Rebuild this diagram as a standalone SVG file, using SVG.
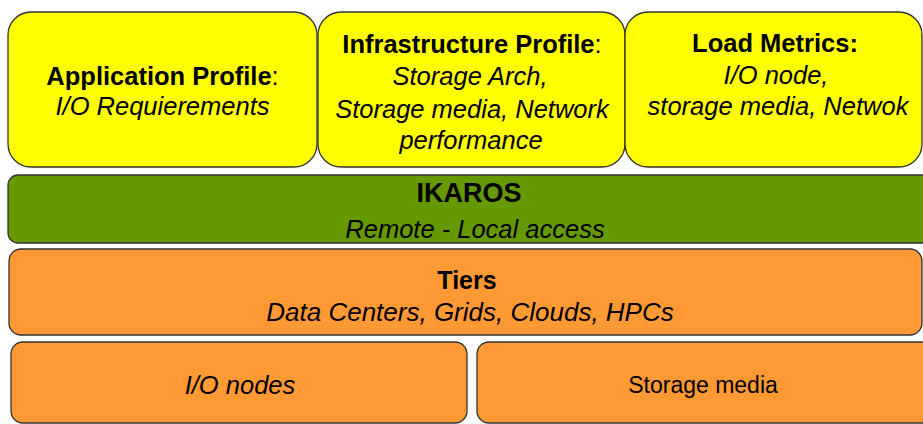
<svg xmlns="http://www.w3.org/2000/svg" width="923" height="424" viewBox="0 0 923 424">
<style>
.box{stroke:#333;stroke-width:1.3}
.y{fill:#FFFF00}
.g{fill:#669900}
.o{fill:#FF9933}
text{font-family:"Liberation Sans",Arial,sans-serif;fill:#000;text-anchor:middle}
.b{font-weight:bold}
.i{font-style:italic}
</style>
<rect width="923" height="424" fill="#fff"/>
<g id="app-profile">
<rect class="box y" x="8" y="12" width="309" height="155" rx="23"/>
<text x="162.5" y="85" font-size="25.5"><tspan class="b">Application Profile</tspan>:</text>
<text class="i" x="162.5" y="115" font-size="25.5">I/O Requierements</text>
</g>
<g id="infra-profile">
<rect class="box y" x="318" y="12" width="307" height="155" rx="23"/>
<text x="472" y="53" font-size="25.5"><tspan class="b">Infrastructure Profile</tspan>:</text>
<text class="i" x="470" y="85" font-size="25.5">Storage Arch,</text>
<text class="i" x="472" y="118" font-size="25.5">Storage media, Network</text>
<text class="i" x="471" y="149" font-size="25.5">performance</text>
</g>
<g id="load-metrics">
<rect class="box y" x="625" y="12" width="297" height="155" rx="23"/>
<text class="b" x="775" y="52" font-size="25.5">Load Metrics:</text>
<text class="i" x="776" y="84" font-size="25.5">I/O node,</text>
<text class="i" x="778" y="115" font-size="25.5">storage media, Netwok</text>
</g>
<g id="ikaros">
<rect class="box g" x="8" y="175" width="930" height="68" rx="10"/>
<text class="b" x="469" y="202" font-size="27">IKAROS</text>
<text class="i" x="475" y="238" font-size="25.5">Remote - Local access</text>
</g>
<g id="tiers">
<rect class="box o" x="9" y="249" width="913" height="86" rx="12"/>
<text class="b" x="467" y="289" font-size="25">Tiers</text>
<text class="i" x="470" y="321" font-size="26">Data Centers, Grids, Clouds, HPCs</text>
</g>
<g id="io-nodes">
<rect class="box o" x="11" y="342" width="456" height="81" rx="12"/>
<text class="i" x="240" y="394" font-size="25.5">I/O nodes</text>
</g>
<g id="storage-media">
<rect class="box o" x="477" y="342" width="460" height="81" rx="12"/>
<text x="703" y="393" font-size="23">Storage media</text>
</g>
<g id="connectors"></g>
</svg>
